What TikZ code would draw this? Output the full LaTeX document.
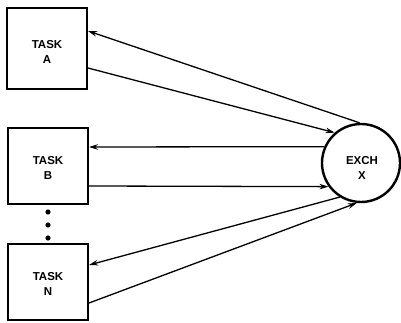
\documentclass[tikz,border=0pt]{standalone}
\usepackage{fontspec}
\setmainfont{Liberation Sans}
\usetikzlibrary{arrows.meta}

\begin{document}
\begin{tikzpicture}[x=1pt,y=-1pt,
  taskbox/.style={draw, line width=2pt, minimum width=80pt, inner sep=0pt},
  exchnode/.style={draw, circle, line width=2.4pt, minimum size=78pt, inner sep=0pt},
  boxtext/.style={align=center, inner sep=0pt,
    font=\bfseries\fontsize{11.5}{15}\selectfont},
  flow/.style={line width=1.3pt, -{Stealth[length=9pt,width=5.5pt]}}]
\useasboundingbox (0,0) rectangle (401,323);
% tasks on the left, exchange on the right
\node[taskbox, minimum height=81pt] (taskA) at (47,48.5) {};
\node[taskbox, minimum height=76pt] (taskB) at (48,166) {};
\node[taskbox, minimum height=76pt] (taskN) at (48,282) {};
\node[exchnode] (exch) at (361,163) {};
\node[boxtext] (textA) at ([yshift=-3pt]taskA.center) {TASK\\A};
\node[boxtext] (textB) at ([yshift=-2pt]taskB.center) {TASK\\B};
\node[boxtext] (textN) at ([yshift=-2pt]taskN.center) {TASK\\N};
\node[boxtext] (textX) at ([xshift=1pt,yshift=-5pt]exch.center) {EXCH\\X};
% ellipsis between B and N
\foreach \y in {212,225,238}
  \fill (48,\y) circle (2.6pt);
% message flows
\draw[flow] (exch.92) -- ([yshift=17.5pt]taskA.east);
\draw[flow] ([yshift=-19.5pt]taskA.east) -- (exch.131);
\draw[flow] (exch.156) -- ([yshift=19pt]taskB.east);
\draw[flow] ([yshift=-20pt]taskB.east) -- (exch.216);
\draw[flow] (exch.238) -- ([yshift=17pt]taskN.east);
\draw[flow] ([yshift=-21pt]taskN.east) -- (exch.264);
\end{tikzpicture}
\end{document}
